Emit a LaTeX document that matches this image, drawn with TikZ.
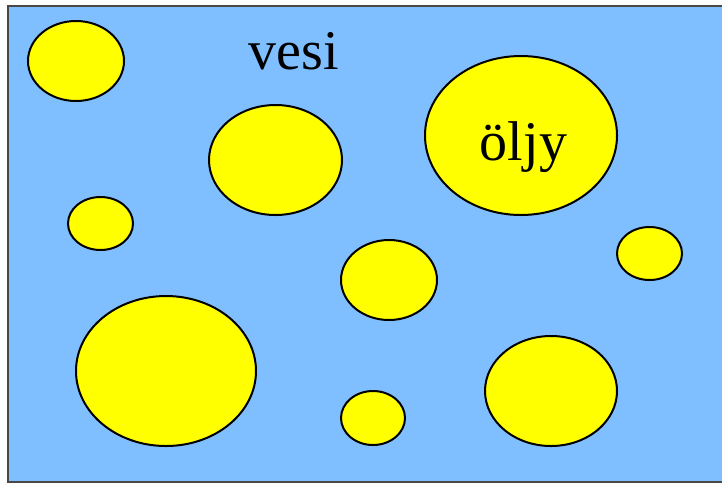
\documentclass[tikz,border=0pt]{standalone}
\usepackage{fontspec}
\setmainfont{Liberation Serif}
\begin{document}
\begin{tikzpicture}[x=1pt,y=-1pt,
  water/.style={fill={rgb,255:red,128;green,191;blue,255}, draw={rgb,255:red,72;green,72;blue,72}, line width=2.2pt},
  drop/.style={fill={rgb,255:red,255;green,255;blue,0}, draw=black, line width=2pt},
  word/.style={font=\fontsize{56}{60}\selectfont, inner sep=0pt, anchor=base}]
\useasboundingbox (0,0) rectangle (722,483);
% water basin (right edge runs off the page)
\draw[water] (8,6) rectangle (730,482);
% oil droplets
\draw[drop] (76,61) ellipse [x radius=48, y radius=40];
\draw[drop] (275.5,160) ellipse [x radius=66.5, y radius=55];
\draw[drop] (521,135.5) ellipse [x radius=96, y radius=79.5];
\draw[drop] (100.5,223.5) ellipse [x radius=32.5, y radius=26.5];
\draw[drop] (389,280) ellipse [x radius=48, y radius=40];
\draw[drop] (649.5,253.5) ellipse [x radius=32.5, y radius=26.5];
\draw[drop] (166,371) ellipse [x radius=90, y radius=75];
\draw[drop] (373,418) ellipse [x radius=32, y radius=27];
\draw[drop] (551,391) ellipse [x radius=66, y radius=55];
% labels
\node[word] (vesi) at (294,69) {vesi};
\node[word] (oljy) at (523.5,160) {öljy};
\end{tikzpicture}
\end{document}
